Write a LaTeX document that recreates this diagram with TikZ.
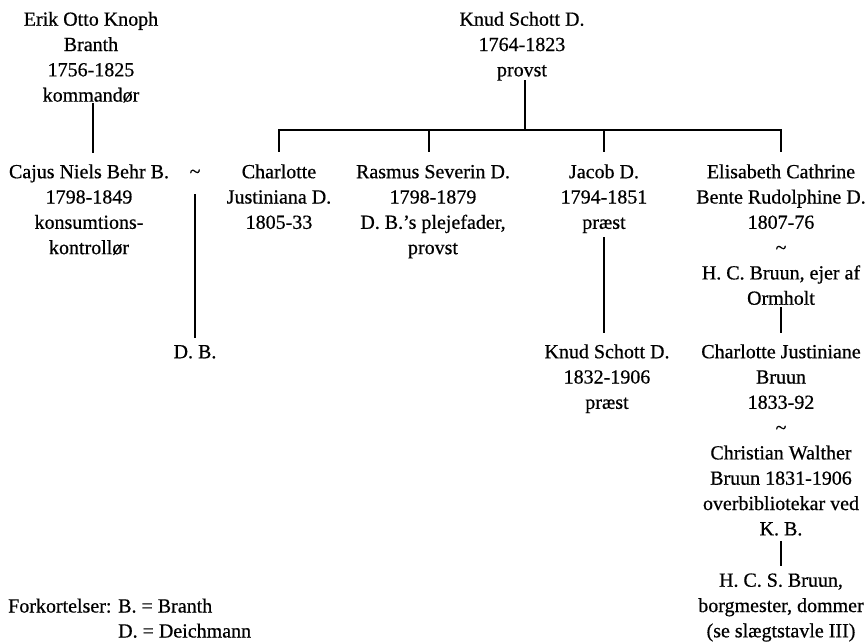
\documentclass[tikz,border=0pt]{standalone}
\usepackage{fontspec}
\setmainfont{Liberation Serif}[FakeBold=0.6]
\newcommand\pfont{\fontsize{20}{25.3}\selectfont}
\tikzset{
  person/.style={align=center, inner sep=0pt, anchor=north, font=\pfont},
  plain/.style={inner sep=0pt, anchor=base, font=\pfont},
  plainw/.style={inner sep=0pt, anchor=base west, font=\pfont},
  link/.style={line width=1.8pt}
}
\begin{document}
\begin{tikzpicture}[x=1pt,y=-1pt]
\useasboundingbox (0,0) rectangle (866,641);
% top generation
\node[person] (erik) at (91,7.8) {\strut Erik Otto Knoph\\Branth\\1756-1825\\kommandør};
\node[person] (knud) at (522,7.8) {\strut Knud Schott D.\\1764-1823\\provst};
% second generation
\node[person] (cajus) at (89,160.3) {\strut Cajus Niels Behr B.\\1798-1849\\konsumtions-\\kontrollør};
\node[plain] (tilde) at (195,178) {\textasciitilde};
\node[person] (charlotte) at (279,160.3) {\strut Charlotte\\Justiniana D.\\1805-33};
\node[person] (rasmus) at (433,160.3) {\strut Rasmus Severin D.\\1798-1879\\D. B.’s plejefader,\\provst};
\node[person] (jacob) at (604,160.3) {\strut Jacob D.\\1794-1851\\præst};
\node[person] (elisabeth) at (781,160.3) {\strut Elisabeth Cathrine\\Bente Rudolphine D.\\1807-76\\\textasciitilde\\H. C. Bruun, ejer af\\Ormholt};
% third generation
\node[person] (db) at (195,340.3) {\strut D. B.};
\node[person] (knudjr) at (607,340.3) {\strut Knud Schott D.\\1832-1906\\præst};
\node[person] (charlottej) at (781,340.3) {\strut Charlotte Justiniane\\Bruun\\1833-92\\\textasciitilde\\Christian Walther\\Bruun 1831-1906\\overbibliotekar ved\\K. B.};
% fourth generation
\node[person] (hcs) at (781,568.8) {\strut H. C. S. Bruun,\\borgmester, dommer\\(se slægtstavle III)};
% abbreviations
\node[plainw] (fork) at (8,612.5) {Forkortelser:};
\node[plainw] (abbB) at (118,612.5) {B. = Branth};
\node[plainw] (abbD) at (118,637.5) {D. = Deichmann};
% connectors
\coordinate (bar) at (525,130);
\draw[link, shorten >=7pt] ([xshift=2pt]erik.south) -- ([xshift=2pt]erik.south |- cajus.north);
\draw[link, shorten <=-0.5pt] ([xshift=3pt]knud.south) -- (bar);
\draw[link, line cap=rect] (charlotte.north |- bar) -- (elisabeth.north |- bar);
\draw[link, shorten >=8pt] (charlotte.north |- bar) -- (charlotte.north);
\draw[link, shorten >=8pt] ([xshift=-4pt]rasmus.north |- bar) -- ([xshift=-4pt]rasmus.north);
\draw[link, shorten >=8pt] (jacob.north |- bar) -- (jacob.north);
\draw[link, shorten >=8pt] (elisabeth.north |- bar) -- (elisabeth.north);
\draw[link, shorten <=16pt, shorten >=2pt] (tilde.south) -- (db.north);
\draw[link, shorten <=4pt, shorten >=7pt] (jacob.south) -- (jacob.south |- knudjr.north);
\draw[link, shorten <=2pt, shorten >=7pt] (elisabeth.south) -- (elisabeth.south |- charlottej.north);
\draw[link, shorten <=5pt, shorten >=3pt] (charlottej.south) -- (charlottej.south |- hcs.north);
\end{tikzpicture}
\end{document}
